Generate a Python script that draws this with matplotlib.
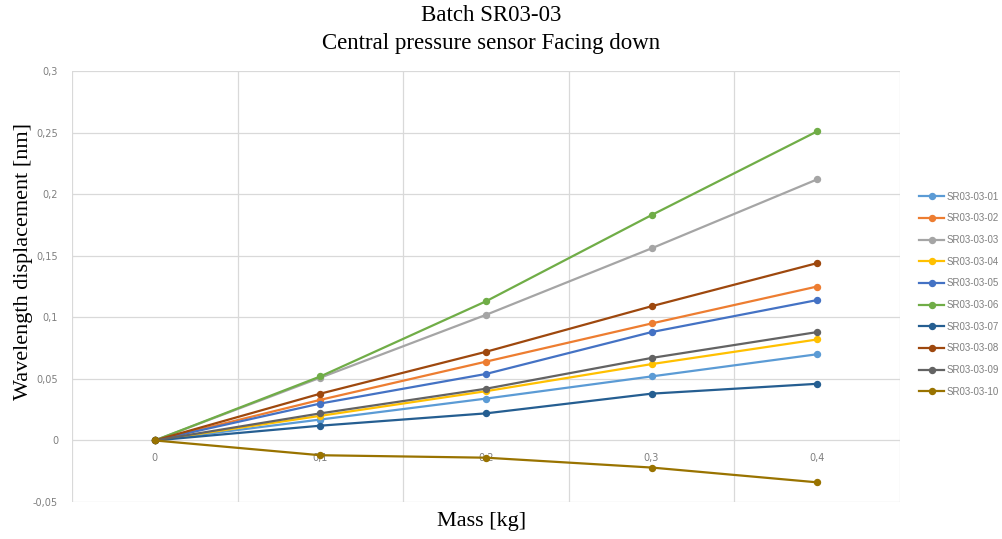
import numpy as np
import matplotlib
matplotlib.use('Agg')
import matplotlib.pyplot as plt

masses = ['0', '0,1', '0,2', '0,3', '0,4']
series = ['SR03-03-01', 'SR03-03-02', 'SR03-03-03', 'SR03-03-04', 'SR03-03-05',
          'SR03-03-06', 'SR03-03-07', 'SR03-03-08', 'SR03-03-09', 'SR03-03-10']

s01 = [0, 0.017, 0.034, 0.052, 0.070]
s02 = [0, 0.033, 0.064, 0.095, 0.125]
s03 = [0, 0.051, 0.102, 0.156, 0.212]
s04 = [0, 0.020, 0.040, 0.062, 0.082]
s05 = [0, 0.030, 0.054, 0.088, 0.114]
s06 = [0, 0.052, 0.113, 0.183, 0.251]
s07 = [0, 0.012, 0.022, 0.038, 0.046]
s08 = [0, 0.038, 0.072, 0.109, 0.144]
s09 = [0, 0.022, 0.042, 0.067, 0.088]
s10 = [0, -0.012, -0.014, -0.022, -0.034]
values = [s01, s02, s03, s04, s05, s06, s07, s08, s09, s10]

colors = ['#5B9BD5', '#ED7D31', '#A5A5A5', '#FFC000', '#4472C4',
          '#70AD47', '#255E91', '#9E480E', '#636363', '#997300']

fig = plt.figure(figsize=(10.03, 5.39), dpi=100)
ax = fig.add_axes([0.0718, 0.0686, 0.8254, 0.7996])

x = np.arange(len(masses))
for name, vals, col in zip(series, values, colors):
    ax.plot(x, vals, color=col, linewidth=1.6, marker='o', markersize=4.3,
            label=name)

ax.set_xlim(-0.5, len(masses) - 0.5)
ax.set_ylim(-0.05, 0.3)

# gridlines: horizontal at ticks, vertical between categories
yt = np.arange(-0.05, 0.301, 0.05)
ax.set_yticks(yt)
ax.set_yticklabels(['-0,05', '0', '0,05', '0,1', '0,15', '0,2', '0,25', '0,3'])
for yv in yt:
    ax.axhline(yv, color='#D9D9D9', linewidth=0.9, zorder=0)
for xv in np.arange(-0.5, len(masses), 1.0):
    ax.axvline(xv, color='#D9D9D9', linewidth=0.9, zorder=0)

ax.set_xticks(x)
ax.set_xticklabels(masses)
for sp in ax.spines.values():
    sp.set_visible(False)
ax.spines['bottom'].set_position(('data', 0))
ax.tick_params(axis='both', length=0, labelsize=7, labelcolor='#7F7F7F')
ax.tick_params(axis='x', pad=9)
ax.tick_params(axis='y', pad=10)

fig.text(0.49, 0.972, 'Batch SR03-03', ha='center', va='center',
         family='Liberation Serif', fontsize=16.5)
fig.text(0.49, 0.92, 'Central pressure sensor Facing down', ha='center',
         va='center', family='Liberation Serif', fontsize=16.5)
fig.text(0.023, 0.515, 'Wavelength displacement [nm]', rotation=90,
         ha='center', va='center', family='Liberation Serif', fontsize=16)
fig.text(0.48, 0.033, 'Mass [kg]', ha='center', va='center',
         family='Liberation Serif', fontsize=16)

leg = ax.legend(loc='center left', bbox_to_anchor=(0.908, 0.454),
                bbox_transform=fig.transFigure, frameon=False,
                prop={'family': 'Liberation Sans', 'size': 7},
                handlelength=2.5, labelspacing=1.2, handletextpad=0.3)
for t in leg.get_texts():
    t.set_color('#7F7F7F')

fig.savefig('out.png', dpi=100)
